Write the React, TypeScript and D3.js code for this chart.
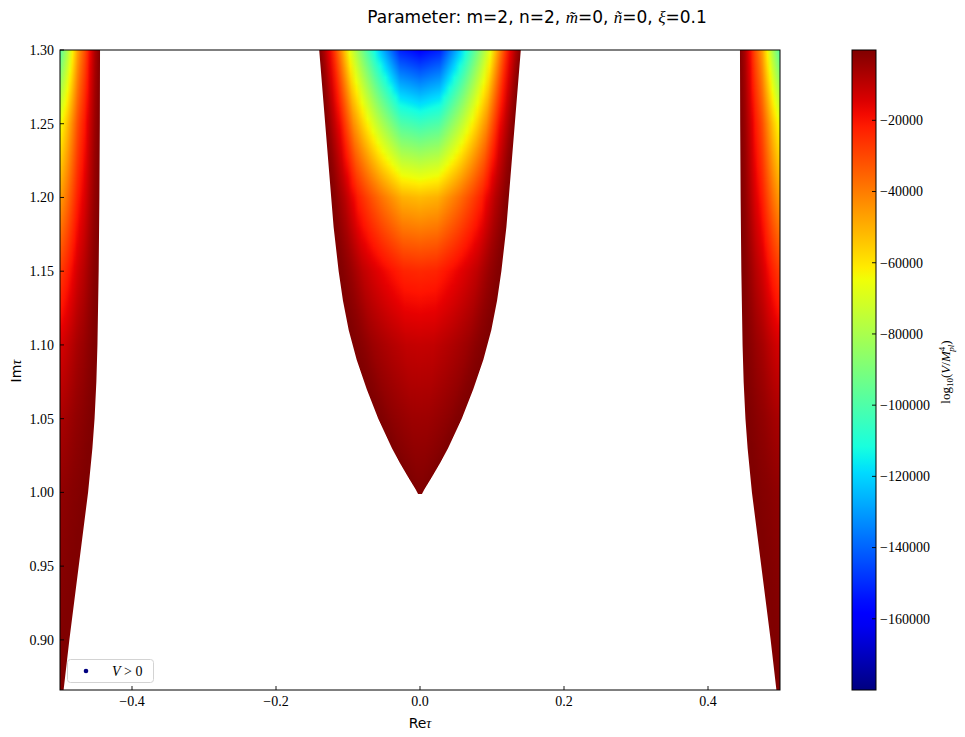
import React, { useMemo } from "react";
import * as d3 from "d3";

// ---------- data ----------
const xTicks = [-0.4, -0.2, 0.0, 0.2, 0.4];
const yTicks = [0.9, 0.95, 1.0, 1.05, 1.1, 1.15, 1.2, 1.25, 1.3];
const cbTicks = [-160000, -140000, -120000, -100000, -80000, -60000, -40000, -20000];

// half-width of the central allowed region vs Im(tau)
const centerEdgeIm = [0.9992, 1.002, 1.006, 1.01, 1.02, 1.03, 1.05, 1.07, 1.09, 1.11, 1.13, 1.15, 1.18, 1.21, 1.24, 1.27, 1.3];
const centerEdgeHalfWidth = [0.003, 0.006, 0.011, 0.016, 0.028, 0.039, 0.058, 0.074, 0.088, 0.099, 0.107, 0.113, 0.12, 0.125, 0.13, 0.135, 0.14];

// width of the side regions (distance from Re tau = +-0.5) vs Im(tau)
const sideEdgeIm = [0.866, 0.9, 0.95, 1.0, 1.03, 1.05, 1.075, 1.1, 1.15, 1.2, 1.25, 1.3];
const sideEdgeHalfWidth = [0.005, 0.013, 0.026, 0.039, 0.045, 0.048, 0.0505, 0.052, 0.0537, 0.0547, 0.0553, 0.0556];

// log10 V along Re tau = 0 and Re tau = +-0.5
const centerValueIm = [1.0, 1.05, 1.1, 1.15, 1.2, 1.25, 1.3];
const centerValue = [-300, -5000, -11000, -24000, -52000, -104000, -158000];
const sideValueIm = [0.866, 0.9, 0.95, 1.0, 1.05, 1.1, 1.15, 1.2, 1.25, 1.3];
const sideValue = [-200, -600, -1500, -3000, -7000, -14000, -28000, -47000, -66000, -99000];

// relative cross profiles (fraction of the axis value) vs normalised distance to the axis
const centerProfileU = [0, 0.2, 0.43, 0.58, 0.7, 0.78, 0.86, 0.96, 1];
const centerProfileG = [1, 0.96, 0.74, 0.57, 0.42, 0.28, 0.15, 0.034, 0];
const sideProfileU = [0, 0.17, 0.29, 0.46, 0.625, 0.75, 0.875, 1];
const sideProfileG = [1, 0.82, 0.67, 0.45, 0.31, 0.18, 0.07, 0];

const vMin = -180000;
const vMax = -250;

// ---------- layout ----------
const W = 965;
const H = 737;
const PL = 60, PR = 780, PT = 50, PB = 690;
const CBL = 852, CBR = 876;

const jetR = d3.scaleLinear().domain([0, 0.35, 0.66, 0.89, 1]).range([0, 0, 1, 1, 0.5]).clamp(true);
const jetG = d3.scaleLinear().domain([0, 0.125, 0.375, 0.64, 0.91, 1]).range([0, 0, 1, 1, 0, 0]).clamp(true);
const jetB = d3.scaleLinear().domain([0, 0.11, 0.34, 0.65, 1]).range([0.5, 1, 1, 0, 0]).clamp(true);
const jet = (t: number) => d3.rgb(255 * jetR(t), 255 * jetG(t), 255 * jetB(t)).formatHex();

const serif = "'Liberation Serif', 'DejaVu Serif', serif";
const sans = "'DejaVu Sans', 'Liberation Sans', sans-serif";

const fmtTick = (v: number, d: number) => (v < 0 ? "\u2212" : "") + Math.abs(v).toFixed(d);

export default function App() {
  const x = d3.scaleLinear().domain([-0.5, 0.5]).range([PL, PR]);
  const y = d3.scaleLinear().domain([0.866, 1.3]).range([PB, PT]);
  const cb = d3.scaleLinear().domain([vMin, vMax]).range([PB, PT]);
  const tOf = d3.scaleLinear().domain([vMin, vMax]).range([0, 1]).clamp(true);

  const cEdge = d3.scaleLinear().domain(centerEdgeIm).range(centerEdgeHalfWidth).clamp(true);
  const sEdge = d3.scaleLinear().domain(sideEdgeIm).range(sideEdgeHalfWidth).clamp(true);
  const cVal = d3.scaleLinear().domain(centerValueIm).range(centerValue).clamp(true);
  const sVal = d3.scaleLinear().domain(sideValueIm).range(sideValue).clamp(true);
  const cProf = d3.scaleLinear().domain(centerProfileU).range(centerProfileG).clamp(true);
  const sProf = d3.scaleLinear().domain(sideProfileU).range(sideProfileG).clamp(true);

  const rows = useMemo(() => {
    const out: any[] = [];
    const NC = 41;
    const NS = 17;
    for (let py = PT; py < PB; py++) {
      const im = y.invert(py + 0.5);
      const s = sEdge(im);
      const sv = sVal(im);
      const sStops = d3.range(NS).map((k) => {
        const u = k / (NS - 1);
        return { o: u, c: jet(tOf(sv * sProf(u))) };
      });
      const row: any = { py, s, sStops };
      if (im >= centerEdgeIm[0]) {
        const hw = cEdge(im);
        const cv = cVal(im);
        row.hw = hw;
        row.cStops = d3.range(NC).map((k) => {
          const o = k / (NC - 1);
          const u = Math.abs(2 * o - 1);
          return { o, c: jet(tOf(cv * cProf(u))) };
        });
      }
      out.push(row);
    }
    return out;
  }, []);

  const cbStops = d3.range(0, 1.0001, 0.02).map((t) => ({ o: t, c: jet(t) }));

  return (
    <svg width={W} height={H} style={{ position: "absolute", left: 0, top: 0, background: "#fff" }}>
      <defs>
        {rows.map((r) => (
          <React.Fragment key={r.py}>
            <linearGradient id={`sl${r.py}`} x1="0" x2="1" y1="0" y2="0">
              {r.sStops.map((st: any, i: number) => (
                <stop key={i} offset={st.o} stopColor={st.c} />
              ))}
            </linearGradient>
            <linearGradient id={`sr${r.py}`} x1="1" x2="0" y1="0" y2="0">
              {r.sStops.map((st: any, i: number) => (
                <stop key={i} offset={st.o} stopColor={st.c} />
              ))}
            </linearGradient>
            {r.cStops && (
              <linearGradient id={`c${r.py}`} x1="0" x2="1" y1="0" y2="0">
                {r.cStops.map((st: any, i: number) => (
                  <stop key={i} offset={st.o} stopColor={st.c} />
                ))}
              </linearGradient>
            )}
          </React.Fragment>
        ))}
        <linearGradient id="cbgrad" x1="0" x2="0" y1="1" y2="0">
          {cbStops.map((st, i) => (
            <stop key={i} offset={st.o} stopColor={st.c} />
          ))}
        </linearGradient>
      </defs>

      {/* field */}
      <g>
        {rows.map((r) => (
          <React.Fragment key={r.py}>
            <rect x={x(-0.5)} y={r.py} width={x(-0.5 + r.s) - x(-0.5)} height={1} fill={`url(#sl${r.py})`} />
            <rect x={x(0.5 - r.s)} y={r.py} width={x(0.5) - x(0.5 - r.s)} height={1} fill={`url(#sr${r.py})`} />
            {r.cStops && (
              <rect x={x(-r.hw)} y={r.py} width={x(r.hw) - x(-r.hw)} height={1} fill={`url(#c${r.py})`} />
            )}
          </React.Fragment>
        ))}
      </g>

      {/* axes frame */}
      <rect x={PL} y={PT} width={PR - PL} height={PB - PT} fill="none" stroke="#000" strokeWidth={1} />

      {/* x ticks */}
      {xTicks.map((t) => (
        <g key={t}>
          <line x1={x(t)} x2={x(t)} y1={PB} y2={PB - 4} stroke="#000" strokeWidth={0.9} />
          <text x={x(t)} y={PB + 16} textAnchor="middle" fontFamily={serif} fontSize={14}>
            {fmtTick(t, 1)}
          </text>
        </g>
      ))}
      {/* y ticks */}
      {yTicks.map((t) => (
        <g key={t}>
          <line x1={PL} x2={PL + 4} y1={y(t)} y2={y(t)} stroke="#000" strokeWidth={0.9} />
          <text x={PL - 6} y={y(t)} dy="0.35em" textAnchor="end" fontFamily={serif} fontSize={14}>
            {t.toFixed(2)}
          </text>
        </g>
      ))}

      {/* axis labels */}
      <text x={x(0)} y={728} textAnchor="middle" fontSize={14}>
        <tspan fontFamily={sans}>Re</tspan>
        <tspan fontFamily={serif} fontStyle="italic">τ</tspan>
      </text>
      <text transform={`translate(21,${371}) rotate(-90)`} textAnchor="middle" fontSize={14}>
        <tspan fontFamily={sans}>Im</tspan>
        <tspan fontFamily={serif} fontStyle="italic">τ</tspan>
      </text>

      {/* title */}
      <text x={537} y={23} textAnchor="middle" fontSize={17} fontFamily={sans}>
        <tspan>Parameter:  m=2, n=2, </tspan>
        <tspan fontFamily={serif} fontStyle="italic">m̃</tspan>
        <tspan>=0, </tspan>
        <tspan fontFamily={serif} fontStyle="italic">ñ</tspan>
        <tspan>=0, </tspan>
        <tspan fontFamily={serif} fontStyle="italic">ξ</tspan>
        <tspan>=0.1</tspan>
      </text>

      {/* legend */}
      <rect x={67.5} y={659.5} width={86} height={23} rx={3} fill="#fff" fillOpacity={0.8} stroke="#d3d3d3" />
      <circle cx={86} cy={671} r={2.3} fill={jet(0)} />
      <text x={112} y={676} fontFamily={serif} fontSize={14}>
        <tspan fontStyle="italic">V</tspan>
        <tspan> &gt; 0</tspan>
      </text>

      {/* colorbar */}
      <rect x={CBL} y={PT} width={CBR - CBL} height={PB - PT} fill="url(#cbgrad)" stroke="#000" strokeWidth={1} />
      {cbTicks.map((t) => (
        <g key={t}>
          <line x1={CBR - 4} x2={CBR} y1={cb(t)} y2={cb(t)} stroke="#000" strokeWidth={0.9} />
          <text x={CBR + 4} y={cb(t)} dy="0.35em" fontFamily={serif} fontSize={14}>
            {"\u2212" + Math.abs(t)}
          </text>
        </g>
      ))}
      <text transform={`translate(950,${372}) rotate(-90)`} textAnchor="middle" fontFamily={serif} fontSize={13}>
        <tspan>log</tspan>
        <tspan fontSize={9} dy={3}>10</tspan>
        <tspan dy={-3}>(</tspan>
        <tspan fontStyle="italic">V</tspan>
        <tspan>/</tspan>
        <tspan fontStyle="italic">M</tspan>
        <tspan fontSize={9} dy={-5}>4</tspan>
        <tspan fontSize={9} fontStyle="italic" dx={-5} dy={9}>pl</tspan>
        <tspan dy={-4}>)</tspan>
      </text>
    </svg>
  );
}
